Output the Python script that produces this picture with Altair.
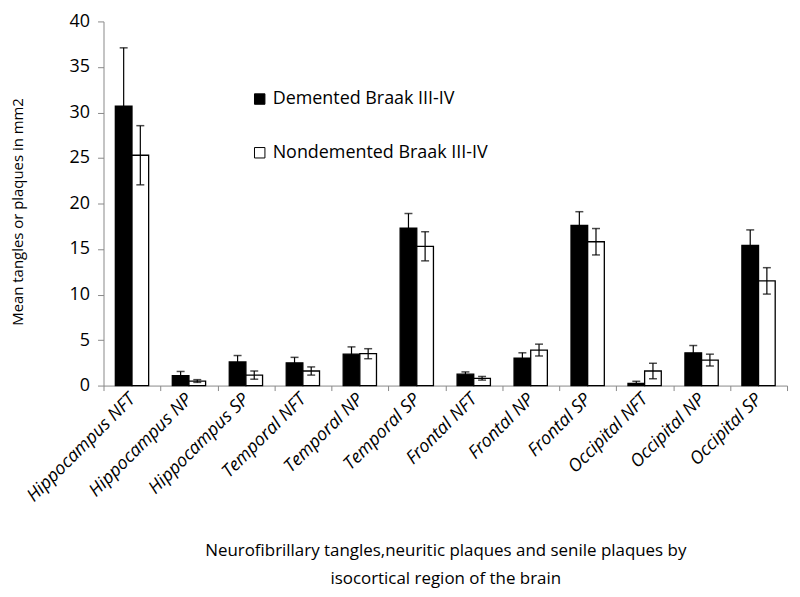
import altair as alt
import pandas as pd

categories = ["Hippocampus NFT", "Hippocampus NP", "Hippocampus SP",
              "Temporal NFT", "Temporal NP", "Temporal SP",
              "Frontal NFT", "Frontal NP", "Frontal SP",
              "Occipital NFT", "Occipital NP", "Occipital SP"]
groups = ["Demented Braak III-IV", "Nondemented Braak III-IV"]
dem_mean = [30.7, 1.1, 2.6, 2.5, 3.45, 17.3, 1.25, 3.0, 17.6, 0.25, 3.6, 15.4]
dem_err = [6.4, 0.45, 0.7, 0.6, 0.8, 1.6, 0.25, 0.6, 1.5, 0.22, 0.8, 1.7]
non_mean = [25.3, 0.5, 1.15, 1.6, 3.5, 15.3, 0.8, 3.9, 15.8, 1.6, 2.8, 11.5]
non_err = [3.25, 0.15, 0.45, 0.45, 0.55, 1.6, 0.2, 0.65, 1.45, 0.85, 0.65, 1.45]

rows = []
for i, c in enumerate(categories):
    rows.append(dict(cat=c, group=groups[0], mean=dem_mean[i],
                     lo=dem_mean[i] - dem_err[i], hi=dem_mean[i] + dem_err[i]))
    rows.append(dict(cat=c, group=groups[1], mean=non_mean[i],
                     lo=non_mean[i] - non_err[i], hi=non_mean[i] + non_err[i]))
df = pd.DataFrame(rows)

FONT = "Open Sans"
x_title = ["Neurofibrillary tangles,neuritic plaques and senile plaques by",
           "isocortical region of the brain"]
y_title = "Mean  tangles or plaques in mm2"

x_enc = alt.X("cat:N", sort=categories,
              scale=alt.Scale(paddingInner=0, paddingOuter=0),
              axis=alt.Axis(title=x_title, labelAngle=-45, tickBand="extent",
                            labelFontSize=18, labelFontStyle="italic", labelFont=FONT,
                            labelColor="black", labelPadding=6, labelBaseline="middle",
                            labelAlign="right", tickSize=5,
                            titleFontSize=17, titleFont=FONT, titleFontWeight="normal",
                            titleColor="black", titleY=158, titleBaseline="top",
                            titleLineHeight=28, domainColor="#888888", tickColor="#888888"))
xo_enc = alt.XOffset("group:N", sort=groups,
                     scale=alt.Scale(paddingInner=0, paddingOuter=0.71))

y_axis = alt.Axis(title=y_title, values=list(range(0, 41, 5)), grid=False,
                  labelFontSize=18, labelFont=FONT, labelColor="black", labelPadding=8,
                  tickSize=6, domainColor="#888888", tickColor="#888888",
                  titleFontSize=15, titleFont=FONT, titleFontWeight="normal",
                  titleColor="black", titleX=-86, titleY=191, titleBaseline="middle")
y_scale = alt.Scale(domain=[0, 40], nice=False)

base = alt.Chart(df).encode(x=x_enc, xOffset=xo_enc)

bars = base.mark_bar(stroke="black", strokeWidth=1.3).encode(
    y=alt.Y("mean:Q", scale=y_scale, axis=y_axis),
    fill=alt.Fill("group:N", sort=groups,
                  scale=alt.Scale(domain=groups, range=["black", "white"]),
                  legend=alt.Legend(orient="none", legendX=148, legendY=69, title=None,
                                    symbolType="square", symbolSize=110,
                                    symbolStrokeColor="black", symbolStrokeWidth=1,
                                    labelFontSize=18, labelFont=FONT, labelColor="black",
                                    labelLimit=0, rowPadding=36, labelOffset=4)),
)

rules = base.mark_rule(color="black", strokeWidth=1.2).encode(
    y=alt.Y("lo:Q", scale=y_scale, axis=y_axis), y2="hi:Q")
caps_hi = base.mark_tick(color="black", thickness=1.5, orient="horizontal").encode(
    y=alt.Y("hi:Q", scale=y_scale, axis=y_axis), size=alt.value(8))
caps_lo = base.mark_tick(color="black", thickness=1.5, orient="horizontal").encode(
    y=alt.Y("lo:Q", scale=y_scale, axis=y_axis), size=alt.value(8))

chart = alt.layer(bars, rules, caps_hi, caps_lo).properties(
    width=687, height=366, autosize="none",
    padding={"left": 96, "top": 12, "right": 5, "bottom": 210},
).configure_view(stroke=None)

chart.save("out.html", embed_options={"renderer": "svg", "actions": False})
